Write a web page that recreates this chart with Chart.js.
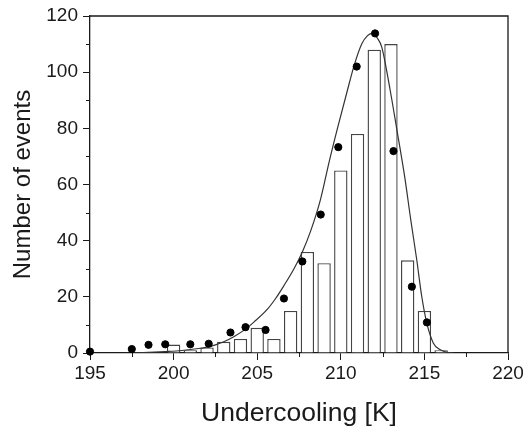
<!DOCTYPE html>
<html>
<head>
<meta charset="utf-8">
<script src="https://cdn.jsdelivr.net/npm/chart.js@4"></script>
<style>
  html, body { margin: 0; padding: 0; background: #fff; }
  #wrap { width: 523px; height: 428px; position: relative; }
</style>
</head>
<body>
<div id="wrap"><canvas id="chart"></canvas></div>
<script>
// histogram: bin centre [K] and number of events
const binCentres = [200, 201, 202, 203, 204, 205, 206, 207, 208, 209, 210, 211, 212, 213, 214, 215, 216];
const binCounts = [3, 1, 2, 4, 5, 9, 5, 15, 36, 32, 65, 78, 108, 110, 33, 15, 1];

// measured points (black dots)
const pointX = [195.0, 197.5, 198.5, 199.5, 201.0, 202.1, 203.4, 204.3, 205.5, 206.6, 207.7, 208.8, 209.85, 210.95, 212.05, 213.15, 214.25, 215.15];
const pointY = [0.5, 1.4, 2.9, 3.1, 3.1, 3.3, 7.3, 9.2, 8.2, 19.4, 32.6, 49.3, 73.3, 102, 113.8, 71.9, 23.6, 10.9];

// fitted curve
const fitX = [197.6, 198.5, 199.5, 200.5, 201.5, 202.0, 202.5, 203.0, 203.6, 204.3, 204.8, 205.6, 206.1, 206.6, 207.2, 207.7, 208.2, 208.8, 209.3, 209.8, 210.35, 210.8, 211.25, 211.6, 211.9, 212.2, 212.45, 212.94, 213.34, 213.84, 214.18, 214.54, 214.84, 215.14, 215.53, 215.9, 216.3, 216.8];
const fitY = [0, 0.2, 0.5, 0.9, 1.6, 2.1, 2.9, 4.0, 5.8, 8.5, 11, 15.5, 19.4, 24, 30, 36, 43.5, 55, 68, 80, 92.5, 102.4, 110, 113, 113.8, 112, 108.9, 94, 80, 62, 47.6, 33.3, 20.2, 10.7, 3.6, 1.3, 0.3, 0];

// axes
const xTicks = [195, 200, 205, 210, 215, 220];
const xMinor = [197.5, 202.5, 207.5, 212.5, 217.5];
const yTicks = [0, 20, 40, 60, 80, 100, 120];
const yMinor = [10, 30, 50, 70, 90, 110];

const FONT = "'Liberation Sans', Arial, sans-serif";
const INK = '#1a1a1a';

// box around the plot + short minor ticks
const frameAndMinor = {
    id: 'frameAndMinor',
    afterDraw(chart) {
        const { ctx, chartArea: a, scales: { x, y } } = chart;
        ctx.save();
        ctx.strokeStyle = INK;
        ctx.lineWidth = 1.3;
        ctx.beginPath();
        ctx.moveTo(a.left, a.top);
        ctx.lineTo(a.right, a.top);
        ctx.lineTo(a.right, a.bottom);
        ctx.stroke();
        ctx.lineWidth = 1;
        ctx.beginPath();
        xMinor.forEach(v => {
            const px = Math.round(x.getPixelForValue(v)) + 0.5;
            ctx.moveTo(px, a.bottom);
            ctx.lineTo(px, a.bottom + 4);
        });
        yMinor.forEach(v => {
            const py = Math.round(y.getPixelForValue(v)) + 0.5;
            ctx.moveTo(a.left, py);
            ctx.lineTo(a.left - 4, py);
        });
        ctx.stroke();
        ctx.restore();
    }
};

const ctx = document.getElementById('chart').getContext('2d');
new Chart(ctx, {
    type: 'bar',
    data: {
        datasets: [
            {
                type: 'scatter',
                data: pointX.map((v, i) => ({ x: v, y: pointY[i] })),
                backgroundColor: '#000',
                borderColor: '#000',
                pointRadius: 3.6,
                pointHoverRadius: 3.6,
                clip: 6,
                order: 1
            },
            {
                type: 'line',
                data: fitX.map((v, i) => ({ x: v, y: fitY[i] })),
                borderColor: '#333',
                borderWidth: 1.2,
                pointRadius: 0,
                fill: false,
                cubicInterpolationMode: 'monotone',
                order: 2
            },
            {
                type: 'bar',
                data: binCentres.map((v, i) => ({ x: v, y: binCounts[i] })),
                backgroundColor: '#fff',
                borderColor: '#444',
                borderWidth: 1.4,
                categoryPercentage: 1,
                barPercentage: 0.8,
                order: 3
            }
        ]
    },
    options: {
        responsive: true,
        maintainAspectRatio: false,
        animation: false,
        events: [],
        layout: { padding: { top: 16, right: 15, left: 4, bottom: 0 } },
        plugins: { legend: { display: false }, tooltip: { enabled: false } },
        scales: {
            x: {
                type: 'linear',
                offset: false,
                min: 195,
                max: 220,
                afterBuildTicks: s => { s.ticks = xTicks.map(v => ({ value: v })); },
                afterFit: s => { s.height = 75; s.paddingRight = 0; s.paddingLeft = 0; },
                grid: { drawOnChartArea: false, drawTicks: true, tickLength: 7, tickColor: INK, tickWidth: 1, offset: false },
                border: { color: INK, width: 1.3 },
                ticks: { color: INK, font: { family: FONT, size: 19 }, padding: 2, maxRotation: 0 },
                title: { display: true, text: 'Undercooling [K]', color: INK, font: { family: FONT, size: 26.5, lineHeight: 1.1 }, padding: { top: 0, bottom: 0 } }
            },
            y: {
                min: 0,
                max: 120,
                afterBuildTicks: s => { s.ticks = yTicks.map(v => ({ value: v })); },
                afterFit: s => { s.width = 86; s.paddingTop = 0; s.paddingBottom = 0; },
                grid: { drawOnChartArea: false, drawTicks: true, tickLength: 7, tickColor: INK, tickWidth: 1 },
                border: { color: INK, width: 1.3 },
                ticks: { color: INK, font: { family: FONT, size: 19 }, padding: 5 },
                title: { display: true, text: 'Number of events', color: INK, font: { family: FONT, size: 24, lineHeight: 1.2 }, padding: { top: 5, bottom: 0 } }
            }
        }
    },
    plugins: [frameAndMinor]
});
</script>
</body>
</html>
